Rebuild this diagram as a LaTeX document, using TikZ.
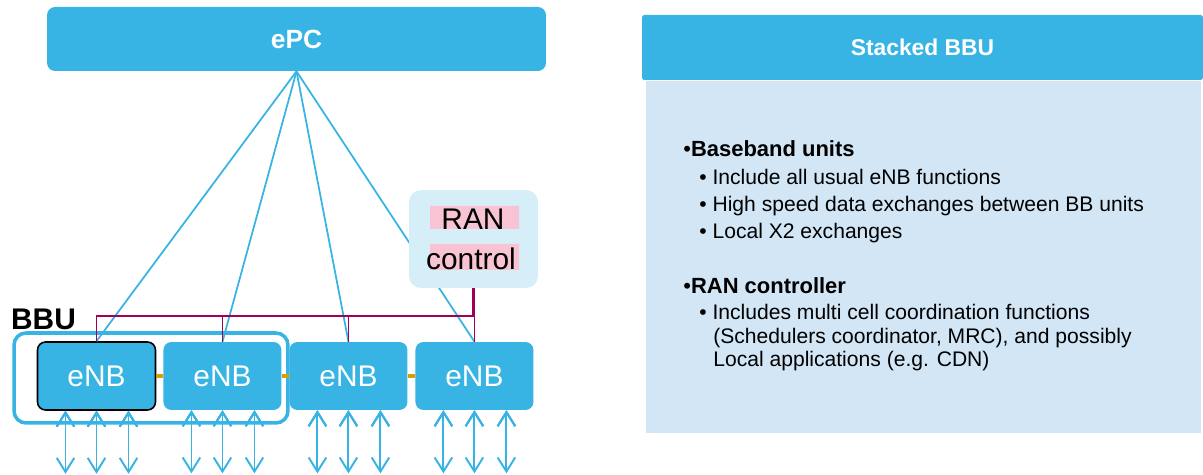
\documentclass[tikz,border=0pt]{standalone}
\usepackage{fontspec}
\setmainfont{Liberation Sans}
\usetikzlibrary{positioning,arrows.meta}

\definecolor{bbcyan}{RGB}{55,180,228}
\definecolor{panelblue}{RGB}{210,230,245}
\definecolor{ranblue}{RGB}{214,238,248}
\definecolor{ranpink}{RGB}{248,196,212}
\definecolor{ctrlred}{RGB}{160,0,90}
\definecolor{linkgold}{RGB}{214,160,0}

\begin{document}
\begin{tikzpicture}[x=0.02cm, y=-0.02cm, node distance=2.52cm, on grid,
    box/.style={fill=bbcyan, rounded corners=0.16cm, text=white},
    enb/.style={box, minimum width=2.36cm, minimum height=1.36cm, font=\fontsize{17}{19}\selectfont},
    uplink/.style={bbcyan, line width=1pt},
    ctrl/.style={ctrlred, line width=1pt},
    x2/.style={linkgold, line width=2.8pt},
    io/.style={draw=bbcyan, line width=1.1pt, {Straight Barb[length=8pt,width=10pt]}-{Straight Barb[length=8pt,width=10pt]}},
    txt/.style={anchor=base west, inner sep=0pt, font=\fontsize{12}{14}\selectfont},
    txtb/.style={txt, font=\fontsize{12.5}{14}\selectfont\bfseries}]
  \useasboundingbox (0,0) rectangle (1203,475);

  % core and cells
  \node[box, minimum width=9.98cm, minimum height=1.28cm, font=\fontsize{15}{17}\selectfont\bfseries] (epc) at (296.5,39) {ePC};
  \node[enb, draw=black, line width=0.9pt] (e1) at (96.5,376) {eNB};
  \node[enb] (e2) [right=of e1] {eNB};
  \node[enb] (e3) [right=of e2] {eNB};
  \node[enb] (e4) [right=of e3] {eNB};
  \node[draw=bbcyan, line width=2pt, rounded corners=0.24cm, minimum width=5.48cm, minimum height=1.8cm] (bbu) at (151,378) {};
  \node[font=\fontsize{17}{20}\selectfont\bfseries] (bbulbl) at (43.5,319.5) {BBU};

  \path[uplink] (epc.south) edge (e1.north) edge (e2.north) edge (e3.north) edge (e4.north);
  \path[x2] (e1) edge (e2) (e2) edge (e3) (e3) edge (e4);

  % control bus
  \coordinate (bus) at (0,316);
  \draw[ctrl] (e1.north) |- (e4.north |- bus) -- (e4.north);
  \path[ctrl] (e2.north) edge (e2.north |- bus) (e3.north) edge (e3.north |- bus);

  \node[fill=ranblue, rounded corners=0.24cm, minimum width=2.58cm, minimum height=1.96cm] (ran) at (473.5,239) {};
  \fill[ranpink] (430,206) rectangle (519,229) (430,244) rectangle (519,270);
  \node[font=\fontsize{17}{20}\selectfont, anchor=base, inner sep=0pt] (ranl1) at (473,230) {RAN};
  \node[font=\fontsize{17}{20}\selectfont, anchor=base, inner sep=0pt] (ranl2) at (471,270) {control};
  \draw[ctrl, line width=1.8pt] (ran.south) -- (ran.south |- bus);

  % radio side
  \foreach \n in {e1,e2,e3,e4}
    \foreach \dx [count=\i] in {-31,0,32} {
      \coordinate (\n in\i) at ([xshift=\dx*0.02cm]\n.south);
      \coordinate (\n out\i) at ([xshift=\dx*0.02cm, yshift=-1.26cm]\n.south);
      \path[io] (\n in\i) edge (\n out\i);
    }

  % legend panel
  \node[box, rounded corners=1pt, minimum width=11.22cm, minimum height=1.3cm, font=\fontsize{13}{15}\selectfont\bfseries] (head) at (922.5,47.5) {Stacked BBU};
  \node[fill=panelblue, minimum width=11.1cm, minimum height=7.04cm] (panel) at (923.5,257) {};
  \node[txtb] (bbt) at (683,157) {{\mdseries\textbullet}Baseband units};
  \node[txt] (bb1) at (699,185) {\textbullet\ Include all usual eNB functions};
  \node[txt] (bb2) at (699,212) {\textbullet\ High speed data exchanges between BB units};
  \node[txt] (bb3) at (699,239) {\textbullet\ Local X2 exchanges};
  \node[txtb] (rct) at (683,294) {{\mdseries\textbullet}RAN controller};
  \node[txt] (rc1) at (699,320) {\textbullet\ Includes multi cell coordination functions};
  \node[txt] (rc2) at (713,344) {(Schedulers coordinator, MRC), and possibly};
  \node[txt] (rc3) at (713,367) {Local applications (e.g. CDN)};
\end{tikzpicture}
\end{document}
